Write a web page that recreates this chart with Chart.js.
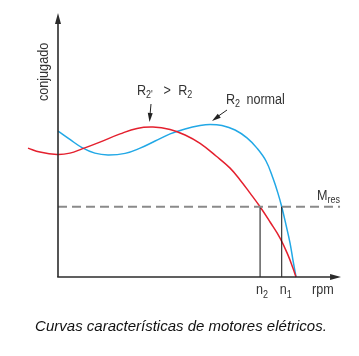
<!DOCTYPE html>
<html><head><meta charset="utf-8">
<script src="https://cdn.jsdelivr.net/npm/chart.js@4"></script>
<style>html,body{margin:0;padding:0;background:#fff}#w{width:359px;height:356px;position:relative}</style>
</head><body><div id="w"><canvas id="c"></canvas></div>
<script>
// rpm axis (0 = standstill, 100 = synchronous speed), torque axis
const redRpm    = [-12.6,-7.6,-0.4,5.0,10.1,17.6,26.1,33.2,39.9,47.1,53.4,59.7,66.4,72.3,76.5,80.7,84.9,89.1,93.3,96.6,98.7,100];
const redTorque = [49.0,47.5,46.6,47.1,48.7,51.3,54.4,56.5,57.0,56.1,54.0,50.8,46.0,41.4,36.9,31.9,26.7,20.9,14.8,8.4,3.4,0];
const blueRpm    = [0,5.0,10.1,15.5,21.0,28.2,34.5,40.8,47.1,53.4,59.7,63.9,68.9,74.4,79.4,83.6,87.4,90.3,92.4,94.0,95.8,97.5,98.7,100];
const blueTorque = [55.5,52.3,49.2,47.1,46.4,47.0,49.0,51.7,54.4,56.3,57.6,58.0,57.6,55.9,52.9,49.0,44.1,37.6,31.9,26.7,19.8,12.9,6.5,0];
const Mres = 26.7;
const n2 = 84.9, n1 = 94.0;
const xAxisEnd = 118.5;
const caption = "Curvas características de motores elétricos.";

const pts = (xs, ys) => xs.map((x, i) => ({x, y: ys[i]}));
const SANS = "'Liberation Sans', Arial, sans-serif";
const SX = 0.9; // condensed look

function drawParts(ctx, x, y, parts) {
  ctx.save();
  ctx.translate(x, y);
  ctx.scale(SX, 1);
  ctx.textBaseline = 'alphabetic';
  ctx.textAlign = 'left';
  let cx = 0;
  for (const p of parts) {
    ctx.font = p.size + 'px ' + SANS;
    ctx.fillText(p.t, cx, (p.dy || 0));
    cx += ctx.measureText(p.t).width + (p.gap || 0);
  }
  ctx.restore();
}
function arrowHead(ctx, tx, ty, fx, fy, len, half) {
  const a = Math.atan2(ty - fy, tx - fx);
  ctx.beginPath();
  ctx.moveTo(tx, ty);
  ctx.lineTo(tx - len*Math.cos(a) + half*Math.sin(a), ty - len*Math.sin(a) - half*Math.cos(a));
  ctx.lineTo(tx - len*Math.cos(a) - half*Math.sin(a), ty - len*Math.sin(a) + half*Math.cos(a));
  ctx.closePath();
  ctx.fill();
}

const deco = {
  id: 'deco',
  afterDatasetsDraw(chart) {
    const ctx = chart.ctx, xs = chart.scales.x, ys = chart.scales.y;
    const x0 = xs.getPixelForValue(0), y0 = ys.getPixelForValue(0);
    const xEnd = xs.getPixelForValue(xAxisEnd);
    ctx.save();
    ctx.strokeStyle = '#2b2b2b'; ctx.fillStyle = '#2b2b2b'; ctx.lineWidth = 1.6;
    // y axis
    ctx.beginPath(); ctx.moveTo(x0, y0); ctx.lineTo(x0, 20); ctx.stroke();
    arrowHead(ctx, x0, 13, x0, 40, 11, 3);
    // x axis
    ctx.beginPath(); ctx.moveTo(x0 - 0.8, y0); ctx.lineTo(xEnd - 6, y0); ctx.stroke();
    arrowHead(ctx, xEnd + 1, y0, 0, y0, 11, 3);

    ctx.fillStyle = '#333';
    // y axis title
    ctx.save();
    ctx.translate(48, 101);
    ctx.rotate(-Math.PI/2);
    drawParts(ctx, 0, 0, [{t:'conjugado', size:14}]);
    ctx.restore();

    // n labels and rpm
    drawParts(ctx, xs.getPixelForValue(n2) - 4, 294, [{t:'n',size:14},{t:'2',size:10,dy:4}]);
    drawParts(ctx, xs.getPixelForValue(n1) - 2, 294, [{t:'n',size:14},{t:'1',size:10,dy:4}]);
    drawParts(ctx, 312, 294, [{t:'rpm',size:14}]);
    // Mres
    drawParts(ctx, 317, 200, [{t:'M',size:14},{t:'res',size:10,dy:3}]);
    // R2' > R2
    drawParts(ctx, 137, 95, [{t:'R',size:14},{t:"2'",size:10,dy:3,gap:12},{t:'>',size:14,gap:8},{t:'R',size:14},{t:'2',size:10,dy:3}]);
    // R2 normal
    drawParts(ctx, 226, 104, [{t:'R',size:14},{t:'2',size:10,dy:3,gap:7},{t:'normal',size:14}]);

    // arrows
    ctx.strokeStyle = '#222'; ctx.fillStyle = '#222'; ctx.lineWidth = 1;
    ctx.beginPath(); ctx.moveTo(151, 104); ctx.lineTo(150, 115); ctx.stroke();
    arrowHead(ctx, 149.5, 122, 151, 104, 9, 2.5);
    ctx.beginPath(); ctx.moveTo(227, 110); ctx.lineTo(217, 117); ctx.stroke();
    arrowHead(ctx, 212, 121, 227, 110, 9, 2.5);

    // caption
    ctx.fillStyle = '#111';
    ctx.font = 'italic 15px ' + SANS;
    ctx.textAlign = 'center'; ctx.textBaseline = 'alphabetic';
    ctx.fillText(caption, 181, 331);
    ctx.restore();
  }
};

new Chart(document.getElementById('c'), {
  type: 'line',
  data: {
    datasets: [
      { data: [{x:0,y:Mres},{x:xAxisEnd,y:Mres}], borderColor:'#8a8a8a', borderWidth:2, borderDash:[9,5], pointRadius:0, tension:0 },
      { data: [{x:n2,y:0},{x:n2,y:Mres}], borderColor:'#111', borderWidth:1, pointRadius:0, tension:0 },
      { data: [{x:n1,y:0},{x:n1,y:Mres}], borderColor:'#111', borderWidth:1, pointRadius:0, tension:0 },
      { data: pts(redRpm, redTorque), borderColor:'#e4202e', borderWidth:1.5, pointRadius:0, tension:0.4 },
      { data: pts(blueRpm, blueTorque), borderColor:'#22a8e6', borderWidth:1.5, pointRadius:0, tension:0.4 }
    ]
  },
  options: {
    responsive: true, maintainAspectRatio: false, animation: false,
    layout: { padding: 0 },
    plugins: { legend: {display:false}, tooltip: {enabled:false}, title:{display:false} },
    scales: {
      x: { type:'linear', display:false, min:-24.37, max:126.47 },
      y: { type:'linear', display:false, min:-30.04, max:105.32 }
    },
    elements: { line: { borderCapStyle:'butt' } }
  },
  plugins: [deco]
});
</script></body></html>
